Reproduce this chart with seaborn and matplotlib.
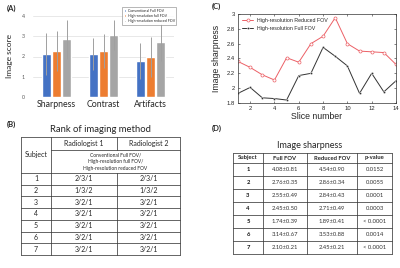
"""Composite figure: scores, ranks, slice sharpness, sharpness table."""

import matplotlib

matplotlib.use("Agg")
import matplotlib.pyplot as plt
import pandas as pd
import seaborn as sns

# (A) reader scores
categories = ["Sharpness", "Contrast", "Artifacts"]
methods = ["Conventional Full FOV", "High-resolution full FOV", "High-resolution reduced FOV"]
score_conv = [2.12, 2.12, 1.77]
score_hr_full = [2.27, 2.27, 1.98]
score_hr_red = [2.85, 3.07, 2.70]
err_conv = [1.02, 0.80, 0.88]
err_hr_full = [1.00, 0.83, 0.98]
err_hr_red = [0.95, 0.73, 0.92]

# (B) rank table
subjects = ["1", "2", "3", "4", "5", "6", "7"]
rank_r1 = ["2/3/1", "1/3/2", "3/2/1", "3/2/1", "3/2/1", "3/2/1", "3/2/1"]
rank_r2 = ["2/3/1", "1/3/2", "3/2/1", "3/2/1", "3/2/1", "3/2/1", "3/2/1"]

# (C) per-slice sharpness
slices = list(range(1, 15))
sharp_reduced = [2.36, 2.28, 2.18, 2.11, 2.41, 2.35, 2.60, 2.70, 2.95, 2.60, 2.50, 2.49, 2.48, 2.32]
sharp_full = [1.93, 2.01, 1.87, 1.86, 1.84, 2.17, 2.20, 2.55, 2.43, 2.30, 1.93, 2.20, 1.95, 2.10]

# (D) sharpness table
full_fov = ["4.08±0.81", "2.76±0.35", "2.55±0.49", "2.45±0.50", "1.74±0.39", "3.14±0.67", "2.10±0.21"]
reduced_fov = ["4.54±0.90", "2.86±0.34", "2.84±0.43", "2.71±0.49", "1.89±0.41", "3.53±0.88", "2.45±0.21"]
p_values = ["0.0152", "0.0055", "0.0001", "0.0003", "< 0.0001", "0.0014", "< 0.0001"]

BAR_COLORS = ["#4472C4", "#ED7D31", "#A5A5A5"]
W, H = 400, 268


def fx(px):
    return px / W


def fy(py):
    return 1 - py / H


sns.set_theme(style="white")
plt.rcParams["font.family"] = ["Lato", "DejaVu Sans"]
fig = plt.figure(figsize=(4, 2.68), dpi=100)
fig.patch.set_facecolor("white")

# ---------- (A) bar chart ----------
axA = fig.add_axes([fx(33), fy(97), fx(141), fy(16) - fy(97)])
df = pd.DataFrame({
    "category": categories * 3,
    "method": [m for m in methods for _ in categories],
    "score": score_conv + score_hr_full + score_hr_red,
})
sns.barplot(data=df, x="category", y="score", hue="method", palette=BAR_COLORS,
            width=0.66, gap=0.12, errorbar=None, ax=axA, saturation=1)
for cont, errs in zip(axA.containers, [err_conv, err_hr_full, err_hr_red]):
    for bar, e in zip(cont, errs):
        axA.errorbar(bar.get_x() + bar.get_width() / 2, bar.get_height(), yerr=e,
                     fmt="none", ecolor="#A0A0A0", elinewidth=0.7, capsize=0)
axA.set_ylim(0, 4)
axA.set_xlim(-0.5, 2.5)
axA.set_yticks([0, 1, 2, 3, 4])
axA.yaxis.grid(True, color="#E4E4E4", lw=0.6)
axA.set_axisbelow(True)
for s in axA.spines.values():
    s.set_visible(False)
axA.tick_params(axis="y", labelsize=3.8, colors="#595959", length=0, pad=6)
axA.tick_params(axis="x", labelsize=6.3, length=0, pad=2)
axA.set_xlabel("")
axA.set_ylabel("Image score", fontsize=6, labelpad=6)
leg = axA.legend(loc="upper right", bbox_to_anchor=(1.03, 1.13), fontsize=2.6, frameon=True,
                 fancybox=False, edgecolor="#808080", handlelength=0.7, handleheight=0.7,
                 handletextpad=0.4, borderpad=0.4, labelspacing=0.35)
leg.get_frame().set_linewidth(0.5)

# ---------- (C) line chart ----------
plt.rcParams["font.family"] = ["Liberation Sans", "DejaVu Sans"]
axC = fig.add_axes([fx(238), fy(103), fx(396) - fx(238), fy(14) - fy(103)])
sns.lineplot(x=slices, y=sharp_reduced, color="#EC6066", lw=0.7, marker="o", markersize=2.2,
             markerfacecolor="white", markeredgecolor="#EC6066", markeredgewidth=0.5,
             label="High-resolution Reduced FOV", ax=axC)
sns.lineplot(x=slices, y=sharp_full, color="#333333", lw=0.7, marker="D", markersize=1.5,
             markeredgewidth=0.3, label="High-resolution Full FOV", ax=axC)
axC.set_xlim(1, 14)
axC.set_ylim(1.8, 3)
axC.set_xticks([2, 4, 6, 8, 10, 12, 14])
axC.set_yticks([1.8, 2, 2.2, 2.4, 2.6, 2.8, 3])
axC.set_yticklabels(["1.8", "2", "2.2", "2.4", "2.6", "2.8", "3"])
axC.tick_params(direction="in", length=1.5, width=0.4, labelsize=4.2, pad=2,
                top=True, right=True, bottom=True, left=True)
for s in axC.spines.values():
    s.set_linewidth(0.5)
    s.set_color("#333333")
axC.set_xlabel("Slice number", fontsize=6.3, labelpad=1)
axC.set_ylabel("Image sharpness", fontsize=6.3, labelpad=4)
axC.legend(loc="upper left", fontsize=3.8, frameon=False, handlelength=2.0,
           borderaxespad=0.4, labelspacing=0.5)

# ---------- overlay for labels and tables ----------
plt.rcParams["font.family"] = ["Lato", "DejaVu Sans"]
ov = fig.add_axes([0, 0, 1, 1])
ov.set_xlim(0, W)
ov.set_ylim(H, 0)
ov.axis("off")
ov.patch.set_alpha(0)

for lab, x, y in [("(A)", 7, 8), ("(B)", 7, 124), ("(C)", 212, 6), ("(D)", 212, 128)]:
    ov.text(x, y, lab, fontsize=5.5, fontweight="bold", ha="left", va="center")

LC = "#3A3A3A"
LW = 0.55

# (B) table
ov.text(100, 129, "Rank of imaging method", fontsize=6.8, ha="center", va="center")
bx = [21, 51, 117, 180]
by_top, by_mid, by_head = 137, 150, 173
row_h = (255 - by_head) / len(subjects)
ov.plot([bx[0], bx[3]], [by_top, by_top], color=LC, lw=LW)
ov.plot([bx[1], bx[3]], [by_mid, by_mid], color=LC, lw=LW)
for i in range(len(subjects) + 1):
    y = by_head + i * row_h
    ov.plot([bx[0], bx[3]], [y, y], color=LC, lw=LW)
for x in (bx[0], bx[1], bx[3]):
    ov.plot([x, x], [by_top, 255], color=LC, lw=LW)
ov.plot([bx[2], bx[2]], [by_top, by_mid], color=LC, lw=LW)
ov.plot([bx[2], bx[2]], [by_head, 255], color=LC, lw=LW)
ov.text((bx[0] + bx[1]) / 2, (by_top + by_head) / 2, "Subject", fontsize=5, ha="center", va="center")
ov.text((bx[1] + bx[2]) / 2, (by_top + by_mid) / 2, "Radiologist 1", fontsize=5, ha="center", va="center")
ov.text((bx[2] + bx[3]) / 2, (by_top + by_mid) / 2, "Radiologist 2", fontsize=5, ha="center", va="center")
ov.text((bx[1] + bx[3]) / 2, (by_mid + by_head) / 2,
        "Conventional Full FOV/\nHigh-resolution full FOV/\nHigh-resolution reduced FOV",
        fontsize=3.5, ha="center", va="center", linespacing=1.4)
for i, (s, r1, r2) in enumerate(zip(subjects, rank_r1, rank_r2)):
    yc = by_head + (i + 0.5) * row_h
    ov.text((bx[0] + bx[1]) / 2, yc, s, fontsize=5, ha="center", va="center")
    ov.text((bx[1] + bx[2]) / 2, yc, r1, fontsize=5, ha="center", va="center")
    ov.text((bx[2] + bx[3]) / 2, yc, r2, fontsize=5, ha="center", va="center")

# (D) table
ov.text(310, 146, "Image sharpness", fontsize=6.5, ha="center", va="center")
dx = [233, 263, 307, 357, 392]
dy_top, dy_head = 153, 163
drow_h = (254 - dy_head) / len(subjects)
for y in [dy_top] + [dy_head + i * drow_h for i in range(len(subjects) + 1)]:
    ov.plot([dx[0], dx[-1]], [y, y], color=LC, lw=LW)
for x in dx:
    ov.plot([x, x], [dy_top, 254], color=LC, lw=LW)
for j, h in enumerate(["Subject", "Full FOV", "Reduced FOV", "p-value"]):
    ov.text((dx[j] + dx[j + 1]) / 2, (dy_top + dy_head) / 2, h, fontsize=4.2,
            fontweight="bold", ha="center", va="center")
for i, row in enumerate(zip(subjects, full_fov, reduced_fov, p_values)):
    yc = dy_head + (i + 0.5) * drow_h
    for j, val in enumerate(row):
        ov.text((dx[j] + dx[j + 1]) / 2, yc, val, fontsize=4.2,
                fontweight="bold" if j == 0 else "normal",
                color="#111111" if j == 0 else "#333333", ha="center", va="center")

fig.savefig("out.png", dpi=100, facecolor="white")
plt.close(fig)
